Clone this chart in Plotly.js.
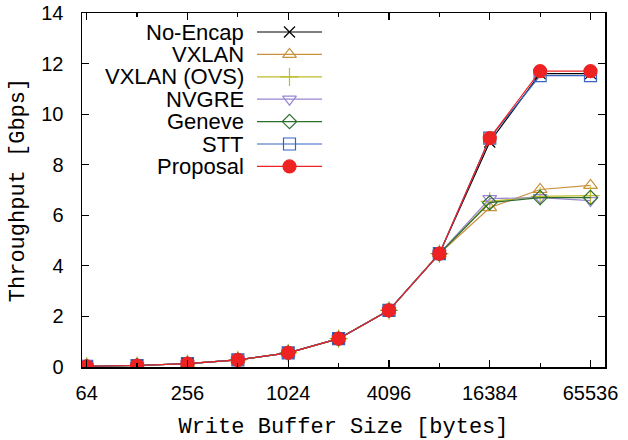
<!DOCTYPE html>
<html>
<head>
<meta charset="utf-8">
<script src="https://cdn.plot.ly/plotly-3.0.1.min.js"></script>
<style>
html,body{margin:0;padding:0;background:#fff;}
#chart{width:628px;height:440px;}
</style>
</head>
<body>
<div id="chart"></div>
<script>
// ---- data ----
var bufferSizes = [64, 128, 256, 512, 1024, 2048, 4096, 8192, 16384, 32768, 65536];
var noEncap   = [0.03, 0.06, 0.13, 0.28, 0.56, 1.12, 2.24, 4.48, 8.90, 11.60, 11.60];
var vxlan     = [0.03, 0.06, 0.13, 0.28, 0.56, 1.12, 2.24, 4.48, 6.30, 7.02, 7.18];
var vxlanOvs  = [0.03, 0.06, 0.13, 0.28, 0.56, 1.12, 2.24, 4.48, 6.55, 6.75, 6.78];
var nvgre     = [0.03, 0.06, 0.13, 0.28, 0.56, 1.12, 2.24, 4.48, 6.66, 6.70, 6.58];
var geneve    = [0.03, 0.06, 0.13, 0.28, 0.56, 1.12, 2.24, 4.48, 6.50, 6.70, 6.70];
var stt       = [0.03, 0.06, 0.13, 0.28, 0.56, 1.12, 2.24, 4.48, 9.05, 11.52, 11.52];
var proposal  = [0.03, 0.06, 0.13, 0.28, 0.56, 1.12, 2.24, 4.48, 9.05, 11.70, 11.70];

var seriesNames = ["No-Encap", "VXLAN", "VXLAN (OVS)", "NVGRE", "Geneve", "STT", "Proposal"];
var xTickVals   = [64, 256, 1024, 4096, 16384, 65536];
var xTickText   = ["64", "256", "1024", "4096", "16384", "65536"];
var xMinorVals  = [128, 512, 2048, 8192, 32768];

// ---- styles ----
var seriesData = [noEncap, vxlan, vxlanOvs, nvgre, geneve, stt, proposal];
var colors  = ["#000000", "#c8913c", "#bcbc2c", "#9a86d2", "#2f6e2f", "#3565c0", "#ee2222"];
var symbols = ["x-thin-open", "triangle-up-open", "cross-thin-open", "triangle-down-open", "diamond-open", "square-open", "circle"];
var sizes   = [11, 12, 13, 12, 11, 12, 13];

// plot area in pixels (for legend overlay axes)
var L = 82, R = 605, T = 13, B = 367;

var traces = [];
seriesData.forEach(function (ys, i) {
  traces.push({
    x: bufferSizes, y: ys, name: seriesNames[i], type: "scatter", mode: "lines+markers",
    line: {color: colors[i], width: 1.2},
    marker: {symbol: symbols[i], size: sizes[i], color: colors[i], line: {color: colors[i], width: 1.2}},
    showlegend: false, hoverinfo: "x+y+name"
  });
});

// custom legend: text on the left, sample on the right (gnuplot style)
var legTop = 32, legStep = 22.4, legX0 = 257, legX1 = 322, legTextX = 245;
var annotations = [];
seriesNames.forEach(function (nm, i) {
  var ry = legTop + i * legStep;
  var xm = (legX0 + legX1) / 2;
  traces.push({
    x: [legX0, legX1], y: [ry, ry], xaxis: "x2", yaxis: "y2", type: "scatter", mode: "lines",
    line: {color: colors[i], width: 1.2}, showlegend: false, hoverinfo: "skip"
  });
  traces.push({
    x: [xm], y: [ry], xaxis: "x2", yaxis: "y2", type: "scatter", mode: "markers",
    marker: {symbol: symbols[i], size: sizes[i], color: colors[i], line: {color: colors[i], width: 1.2}},
    showlegend: false, hoverinfo: "skip"
  });
  annotations.push({
    xref: "x2", yref: "y2", x: legTextX, y: ry, text: nm, showarrow: false,
    xanchor: "right", yanchor: "middle", borderpad: 0,
    font: {family: "Liberation Sans, Arial, sans-serif", size: 22, color: "#000"}
  });
});

var tickFont = {family: "Liberation Sans, Arial, sans-serif", size: 20, color: "#000"};
var titleFont = {family: "Liberation Mono, Courier New, monospace", size: 22, color: "#000"};

var layout = {
  width: 628, height: 440,
  margin: {l: L, r: 628 - R, t: T, b: 440 - B, pad: 0},
  paper_bgcolor: "#fff", plot_bgcolor: "#fff",
  showlegend: false,
  xaxis: {
    type: "log", range: [Math.log10(60), Math.log10(80000)],
    tickmode: "array", tickvals: xTickVals, ticktext: xTickText,
    ticks: "inside", ticklen: 7, tickwidth: 1.2, tickcolor: "#000",
    minor: {tickmode: "array", tickvals: xMinorVals, ticks: "inside", ticklen: 4, tickwidth: 1.2, tickcolor: "#000", showgrid: false},
    showline: true, linecolor: "#000", linewidth: 1.5, mirror: "ticks",
    showgrid: false, zeroline: false, tickfont: tickFont, ticklabelstandoff: 7,
    title: {text: "Write Buffer Size [bytes]", font: titleFont, standoff: 29},
    automargin: false
  },
  yaxis: {
    range: [0, 14], tickmode: "linear", tick0: 0, dtick: 2,
    ticks: "inside", ticklen: 7, tickwidth: 1.2, tickcolor: "#000",
    showline: true, linecolor: "#000", linewidth: 1.5, mirror: "ticks",
    showgrid: false, zeroline: false, tickfont: tickFont, ticklabelstandoff: 13,
    title: {text: "Throughput [Gbps]", font: titleFont, standoff: 10},
    automargin: false
  },
  xaxis2: {overlaying: "x", range: [L, R], visible: false, fixedrange: true},
  yaxis2: {overlaying: "y", range: [B, T], visible: false, fixedrange: true},
  annotations: annotations
};

Plotly.newPlot("chart", traces, layout, {displayModeBar: false, staticPlot: true});
</script>
</body>
</html>
